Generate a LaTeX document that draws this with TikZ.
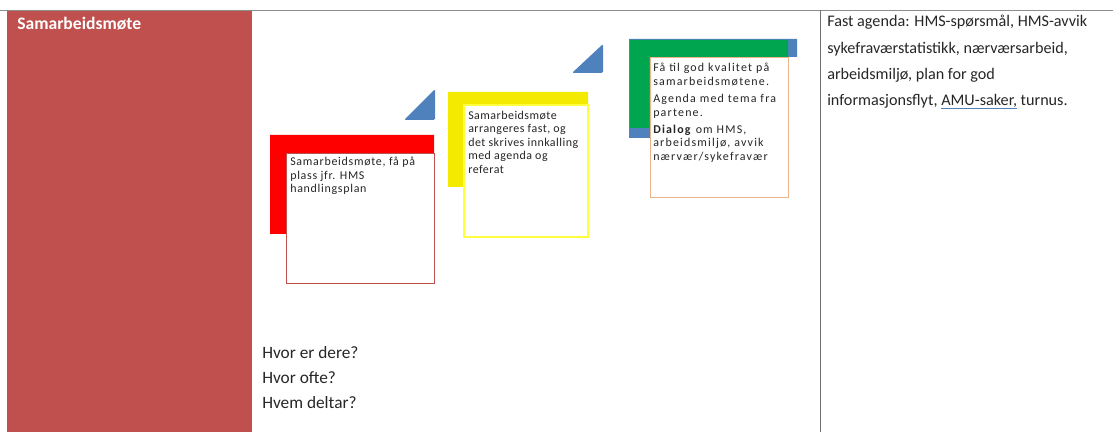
\documentclass[tikz,border=0pt]{standalone}
\usepackage{fontspec}
\setmainfont{Carlito}
\usetikzlibrary{positioning}
\definecolor{headRed}{HTML}{C0504D}
\definecolor{flagRed}{HTML}{FF0000}
\definecolor{flagYellow}{HTML}{F4EA00}
\definecolor{yellowEdge}{HTML}{FFFF40}
\definecolor{flagGreen}{HTML}{00A550}
\definecolor{stepBlue}{HTML}{4F81BD}
\definecolor{noteEdge}{HTML}{EDB48A}
\definecolor{gridLine}{HTML}{8C8C8C}
\definecolor{textGray}{HTML}{262626}
\newcommand\spellmark[1]{\setbox0\hbox{#1}\rlap{\color{stepBlue}\rule[-2.4pt]{\wd0}{0.5pt}}\box0\relax}

\tikzset{
  notetext/.style={anchor=north west, align=left, inner sep=0pt, text=textGray,
    font=\fontsize{8.5}{9.5}\selectfont\addfontfeatures{LetterSpace=#1}},
  notetext/.default=5,
  celltext/.style={anchor=north west, align=left, inner sep=0pt, text=textGray,
    font=\fontsize{11.5}{18.7}\selectfont},
}

\begin{document}
\begin{tikzpicture}[x=0.025cm, y=-0.025cm]
    \useasboundingbox (0,0) rectangle (1113,432);
    % table
    \fill[headRed] (7,10) rectangle (252,432);
    \draw[gridLine, line width=0.5pt] (0,10) -- (1113,10);
    \draw[gridLine!80!black, line width=0.6pt] (820,10) -- (820,432);
    \node[anchor=base west, inner sep=0pt, text=white, font=\fontsize{12.5}{14}\selectfont\bfseries]
        (title) at (17,30) {Samarbeidsmøte};
    % step 1
    \fill[flagRed] (270,135) -- (434,135) -- (434,153) -- (286,153) -- (286,234) -- (270,234) -- cycle;
    \draw[headRed, fill=white, line width=0.6pt] (286,153) rectangle (434,283);
    \node[notetext=6] (plan) at (290,157)
        {Samarbeidsmøte, få på\\plass jfr. HMS\\handlingsplan};
    \fill[stepBlue, rounded corners=1pt] (404,120) -- (435,89) -- (435,120) -- cycle;
    % step 2
    \fill[flagYellow] (448,92) -- (588,92) -- (588,105) -- (466,105) -- (466,187) -- (448,187) -- cycle;
    \draw[yellowEdge, fill=white, line width=0.8pt] (464,105) rectangle (588,237);
    \node[notetext=4] (fast) at (468,111)
        {Samarbeidsmøte\\arrangeres fast, og\\det skrives innkalling\\med agenda og\\referat};
    \fill[stepBlue, rounded corners=1pt] (572,73) -- (603,44) -- (603,73) -- cycle;
    % step 3
    \fill[stepBlue] (629,39) -- (797,39) -- (797,57) -- (650,57) -- (650,138) -- (629,138) -- cycle;
    \fill[flagGreen] (630,40) -- (788,40) -- (788,57) -- (649,57) -- (649,128) -- (630,128) -- cycle;
    \draw[noteEdge, fill=white, line width=0.6pt] (650,57) rectangle (788,197);
    \node[notetext=10] (quality) at (653,63)
        {Få til god kvalitet på\\samarbeidsmøtene.\\[3pt]Agenda med tema fra\\partene.\\[3pt]
         \textbf{Dialog} om HMS,\\arbeidsmiljø, avvik\\nærvær/sykefravær};
    % texts
    \node[celltext, font=\fontsize{12.3}{18}\selectfont] (ask) at (262,346)
        {Hvor er dere?\\Hvor ofte?\\Hvem deltar?};
    \node[celltext] (agenda) at (827,15)
        {Fast agenda: HMS-spørsmål, HMS-avvik\\sykefraværstatistikk, nærværsarbeid,\\arbeidsmiljø, plan for god\\
         informasjonsflyt, \spellmark{AMU-saker,} turnus.};
\end{tikzpicture}
\end{document}
